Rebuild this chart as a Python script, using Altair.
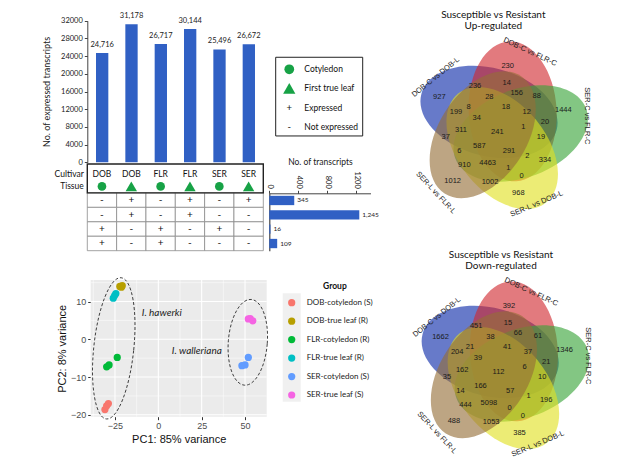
import altair as alt
import pandas as pd

W, H = 616, 452
M = 8


def cv(v):
    """page pixel -> canvas pixel"""
    return v - M


# ---------------- data ----------------
samples = ["DOB-C", "DOB-L", "FLR-C", "FLR-L", "SER-C", "SER-L"]
cultivars = ["DOB", "DOB", "FLR", "FLR", "SER", "SER"]
tissues = ["Cotyledon", "First true leaf", "Cotyledon", "First true leaf", "Cotyledon", "First true leaf"]
expressed = [24716, 31178, 26717, 30144, 25496, 26672]

patterns = [
    ["-", "+", "-", "+", "-", "+"],
    ["-", "+", "-", "+", "-", "-"],
    ["+", "-", "+", "-", "+", "-"],
    ["+", "-", "+", "-", "-", "-"],
]
pattern_counts = [345, 1245, 16, 109]

legend_labels = ["Cotyledon", "First true leaf", "Expressed", "Not expressed"]
legend_glyphs = ["", "", "+", "-"]

pca_groups = ["DOB-cotyledon (S)", "DOB-true leaf (R)", "FLR-cotyledon (R)",
              "FLR-true leaf (R)", "SER-cotyledon (S)", "SER-true leaf (S)"]
pca_colors = ["#F8766D", "#B79F00", "#00BA38", "#00BFC4", "#619CFF", "#F564E3"]
pca_group_of = ["DOB-cotyledon (S)"] * 3 + ["DOB-true leaf (R)"] * 3 + ["FLR-cotyledon (R)"] * 3 + \
               ["FLR-true leaf (R)"] * 3 + ["SER-cotyledon (S)"] * 3 + ["SER-true leaf (S)"] * 3
pc1 = [-30.8, -29.8, -28.8, -22.2, -21.3, -20.8, -29.8, -28.4, -23.7,
       -26.0, -25.2, -24.5, 48.2, 50.0, 51.9, 51.9, 53.0, 54.5]
pc2 = [-18.6, -17.6, -17.0, 14.0, 13.8, 14.2, -7.3, -6.8, -4.8,
       10.9, 11.6, 12.1, -7.0, -6.8, -4.8, 5.4, 5.5, 4.9]
species = ["I. hawerki", "I. walleriana"]
species_pc1 = [2.0, 22.2]
species_pc2 = [7.0, -3.0]

venn_sets = ["DOB-C vs DOB-L", "DOB-C vs FLR-C", "SER-C vs FLR-C", "SER-L vs DOB-L", "SER-L vs FLR-L"]
venn_up = [230, 14, 236, 156, 88, 28, 18, 927, 8, 199, 12, 1444, 34, 20, 311, 241, 1, 37, 19,
           587, 291, 6, 2, 334, 910, 4463, 1, 0, 1012, 1002, 968]
venn_down = [392, 15, 451, 66, 61, 38, 41, 1662, 21, 204, 37, 1346, 39, 21, 162, 112, 6, 35, 10,
             166, 57, 14, 1, 196, 444, 5098, 0, 0, 488, 1053, 385]

# ---------------- layout (positions, not data) ----------------
venn_dx = [6.2, 5.2, -26.5, 15.2, 35.2, -12.2, 4.5, -62.2, -32.8, -45.5, 25.2, 61.8, -24.8, 43.5,
           -40.5, -4.2, 21.8, -55.8, 39.5, -22.2, 7.5, -42.2, 25.8, 43.5, -37.2, -13.8, 6.8, 20.2,
           -48.8, -11.5, 16.8]
venn_dy = [-62.3, -44.7, -42.3, -34.7, -32.3, -30.7, -21.3, -30.7, -21.3, -15.7, -15.7, -18.0, -9.7,
           -5.7, 2.0, 4.3, -0.7, 9.3, 8.7, 18.0, 23.0, 22.7, 28.0, 32.3, 36.7, 35.3, 40.3, 48.0,
           52.7, 54.3, 65.3]
# five congruent ellipses, rotated by 72 degrees around the diagram centre
venn_shape_dx = [-12.5, 11.2, 19.2, 0.7, -18.8]
venn_shape_dy = [-16.0, -16.6, 5.5, 20.0, 6.8]
venn_shape_rot = [15, 87, 159, 231, 303]
VENN_A, VENN_B = 70.0, 44.0
venn_label_dx = [-65.8, 28.5, 85.2, 35.2, -65.8]
venn_label_dy = [-50.7, -76.0, -12.2, 76.0, 64.7]
venn_label_rot = [-39, 25, 90, -23, 47]
venn_colors = ["#0A28A8", "#D1282F", "#37A337", "#E1E120", "#946D37"]

BLUE = "#3060C4"
GREEN = "#17A246"
CAL = "Lato"
ARIAL = "Liberation Sans"


def ellipse_path(rx, ry):
    k = 0.5523
    return (f"M {rx} 0 C {rx} {k*ry:.4f} {k*rx:.4f} {ry} 0 {ry} "
            f"C {-k*rx:.4f} {ry} {-rx} {k*ry:.4f} {-rx} 0 "
            f"C {-rx} {-k*ry:.4f} {-k*rx:.4f} {-ry} 0 {-ry} "
            f"C {k*rx:.4f} {-ry} {rx} {-k*ry:.4f} {rx} 0 Z")


layers = []

# ---------------- bar chart: expressed transcripts ----------------
bar_x = alt.Scale(domain=samples, range=[cv(87.5), cv(263.5)], paddingInner=0.58, paddingOuter=0.29)
bar_y = alt.Scale(domain=[0, 32000], range=[cv(162.3), cv(20.7)], nice=False)
df_bar = pd.DataFrame({"sample": samples, "count": expressed})
layers.append(
    alt.Chart(df_bar).mark_bar(color=BLUE).encode(
        x=alt.X("sample:N", scale=bar_x, axis=None),
        y=alt.Y("count:Q", scale=bar_y, axis=alt.Axis(
            orient="left", offset=-cv(87.3), values=list(range(0, 32001, 4000)), format="d",
            title="No. of expressed transcripts", titleFont=CAL, titleFontSize=9,
            titleFontWeight="normal", titleColor="#222", titlePadding=9,
            labelFont=CAL, labelFontSize=7.5, labelColor="#222", labelPadding=2,
            tickSize=3, tickColor="#444", domainColor="#444")),
    )
)
layers.append(
    alt.Chart(df_bar).mark_text(dy=-4, font=CAL, fontSize=7.5, color="#222", baseline="bottom").encode(
        x=alt.X("sample:N", scale=bar_x, axis=None),
        y=alt.Y("count:Q", scale=bar_y, axis=None),
        text=alt.Text("count:Q", format=","),
    )
)

# ---------------- table ----------------
ncol, nrow = len(samples), len(patterns)
tab_x = alt.Scale(domain=[0, ncol], range=[cv(87.3), cv(263.3)], nice=False, zero=False)
tab_y = alt.Scale(domain=[-2, nrow], range=[cv(164), cv(250.7)], nice=False, zero=False)
cells = pd.DataFrame([
    {"c0": c, "c1": c + 1, "r0": r, "r1": r + 1, "cm": c + 0.5, "rm": r + 0.5, "sym": patterns[r][c]}
    for r in range(nrow) for c in range(ncol)
])
layers.append(
    alt.Chart(cells).mark_rect(fill="white", stroke="#8a8a8a", strokeWidth=0.8).encode(
        x=alt.X("c0:Q", scale=tab_x, axis=None), x2="c1:Q",
        y=alt.Y("r0:Q", scale=tab_y, axis=None), y2="r1:Q",
    )
)
layers.append(
    alt.Chart(cells).mark_text(font=CAL, fontSize=10, color="#111").encode(
        x=alt.X("cm:Q", scale=tab_x, axis=None),
        y=alt.Y("rm:Q", scale=tab_y, axis=None),
        text="sym:N",
    )
)
header = pd.DataFrame({"c0": [0], "c1": [ncol], "r0": [-2], "r1": [0]})
layers.append(
    alt.Chart(header).mark_rect(fill=None, stroke="#222", strokeWidth=1.4).encode(
        x=alt.X("c0:Q", scale=tab_x, axis=None), x2="c1:Q",
        y=alt.Y("r0:Q", scale=tab_y, axis=None), y2="r1:Q",
    )
)
head_df = pd.DataFrame({"cm": [i + 0.5 for i in range(ncol)], "cultivar": cultivars, "tissue": tissues,
                        "ry": [-1.3] * ncol, "ty": [-0.45] * ncol})
layers.append(
    alt.Chart(head_df).mark_text(font=CAL, fontSize=8.5, color="#111").encode(
        x=alt.X("cm:Q", scale=tab_x, axis=None),
        y=alt.Y("ry:Q", scale=tab_y, axis=None),
        text="cultivar:N",
    )
)
tissue_shape = alt.Scale(domain=["Cotyledon", "First true leaf"], range=["circle", "triangle-up"])
tissue_size = alt.Scale(domain=["Cotyledon", "First true leaf"], range=[75, 130])
layers.append(
    alt.Chart(head_df).mark_point(filled=True, color=GREEN, opacity=1).encode(
        x=alt.X("cm:Q", scale=tab_x, axis=None),
        y=alt.Y("ty:Q", scale=tab_y, axis=None),
        shape=alt.Shape("tissue:N", scale=tissue_shape, legend=None),
        size=alt.Size("tissue:N", scale=tissue_size, legend=None),
    )
)
rowlab = pd.DataFrame({"x": [-0.12, -0.12], "y": [-1.3, -0.45], "t": ["Cultivar", "Tissue"]})
layers.append(
    alt.Chart(rowlab).mark_text(font=CAL, fontSize=8.5, color="#111", align="right").encode(
        x=alt.X("x:Q", scale=tab_x, axis=None),
        y=alt.Y("y:Q", scale=tab_y, axis=None),
        text="t:N",
    )
)

# ---------------- horizontal bars: No. of transcripts ----------------
hb_x = alt.Scale(domain=[0, 1400], range=[cv(269.3), cv(370.5)], nice=False)
hb_y = alt.Scale(domain=list(range(nrow)), range=[cv(193.3), cv(250.7)], paddingInner=0.35, paddingOuter=0.175)
df_hb = pd.DataFrame({"row": list(range(nrow)), "n": pattern_counts})
layers.append(
    alt.Chart(df_hb).mark_bar(color=BLUE).encode(
        x=alt.X("n:Q", scale=hb_x, axis=alt.Axis(
            orient="top", offset=-cv(193.3), values=[0, 400, 800, 1200], format="d", labelAngle=90,
            title="No. of transcripts", titleFont=CAL, titleFontSize=8.5, titleFontWeight="normal",
            titleColor="#222", titlePadding=4, labelFont=CAL, labelFontSize=7.5, labelColor="#222",
            labelPadding=2, tickSize=3, tickColor="#444", domainColor="#444")),
        y=alt.Y("row:O", scale=hb_y, axis=alt.Axis(
            orient="left", offset=-cv(269.3), labels=False, ticks=False, title=None,
            domainColor="#444", domainWidth=1.2)),
    )
)
layers.append(
    alt.Chart(df_hb).mark_text(align="left", dx=3, font=CAL, fontSize=6.5, color="#222").encode(
        x=alt.X("n:Q", scale=hb_x, axis=None),
        y=alt.Y("row:O", scale=hb_y, axis=None),
        text=alt.Text("n:Q", format=","),
    )
)

# ---------------- shape legend box ----------------
lg_x = alt.Scale(domain=[0, 1], range=[cv(275.7), cv(362.7)], nice=False, zero=False)
lg_y = alt.Scale(domain=[0, len(legend_labels) - 1], range=[cv(69.3), cv(126.6)], nice=False, zero=False)
box = pd.DataFrame({"x0": [0], "x1": [1], "y0": [-0.63], "y1": [len(legend_labels) - 0.51]})
layers.append(
    alt.Chart(box).mark_rect(fill="white", stroke="#222", strokeWidth=1).encode(
        x=alt.X("x0:Q", scale=lg_x, axis=None), x2="x1:Q",
        y=alt.Y("y0:Q", scale=lg_y, axis=None), y2="y1:Q",
    )
)
lg_df = pd.DataFrame({"i": list(range(len(legend_labels))), "label": legend_labels,
                      "glyph": legend_glyphs, "sx": [0.156] * 4, "tx": [0.329] * 4})
layers.append(
    alt.Chart(lg_df).transform_filter("datum.i < 2").mark_point(filled=True, color=GREEN, opacity=1).encode(
        x=alt.X("sx:Q", scale=lg_x, axis=None),
        y=alt.Y("i:Q", scale=lg_y, axis=None),
        shape=alt.Shape("label:N", scale=tissue_shape, legend=None),
        size=alt.Size("label:N", scale=alt.Scale(domain=["Cotyledon", "First true leaf"], range=[95, 150]), legend=None),
    )
)
layers.append(
    alt.Chart(lg_df).transform_filter("datum.i >= 2").mark_text(font=CAL, fontSize=9.5, color="#111").encode(
        x=alt.X("sx:Q", scale=lg_x, axis=None),
        y=alt.Y("i:Q", scale=lg_y, axis=None),
        text="glyph:N",
    )
)
layers.append(
    alt.Chart(lg_df).mark_text(align="left", font=CAL, fontSize=8.5, color="#111").encode(
        x=alt.X("tx:Q", scale=lg_x, axis=None),
        y=alt.Y("i:Q", scale=lg_y, axis=None),
        text="label:N",
    )
)

# ---------------- PCA ----------------
PX = [-39.0, 62.5]
PY = [-20.5, 15.7]
pca_x = alt.Scale(domain=PX, range=[cv(90.7), cv(266.7)], nice=False, zero=False)
pca_y = alt.Scale(domain=PY, range=[cv(416.7), cv(280.0)], nice=False, zero=False)
panel = pd.DataFrame({"x0": [PX[0]], "x1": [PX[1]], "y0": [PY[0]], "y1": [PY[1]]})
layers.append(
    alt.Chart(panel).mark_rect(fill="#EBEBEB").encode(
        x=alt.X("x0:Q", scale=pca_x, axis=alt.Axis(
            orient="bottom", offset=cv(416.7) - H, values=[-25, 0, 25, 50], domain=False,
            title="PC1: 85% variance", titleFont=ARIAL, titleFontSize=11, titleFontWeight="normal",
            titleColor="#111", titlePadding=3, labelFont=ARIAL, labelFontSize=9, labelColor="#4D4D4D",
            labelPadding=2, tickSize=3, tickColor="#333")),
        x2="x1:Q",
        y=alt.Y("y0:Q", scale=pca_y, axis=alt.Axis(
            orient="left", offset=-cv(90.7), values=[-20, -10, 0, 10], domain=False,
            title="PC2: 8% variance", titleFont=ARIAL, titleFontSize=11, titleFontWeight="normal",
            titleColor="#111", titlePadding=3, labelFont=ARIAL, labelFontSize=9, labelColor="#4D4D4D",
            labelPadding=2, tickSize=3, tickColor="#333")),
        y2="y1:Q",
    )
)
vgrid = pd.DataFrame({"v": [-37.5, -12.5, 12.5, 37.5, -25, 0, 25, 50],
                      "w": [0.5] * 4 + [1.1] * 4, "y0": [PY[0]] * 8, "y1": [PY[1]] * 8})
hgrid = pd.DataFrame({"v": [-15, -5, 5, 15, -20, -10, 0, 10],
                      "w": [0.5] * 4 + [1.1] * 4, "x0": [PX[0]] * 8, "x1": [PX[1]] * 8})
layers.append(
    alt.Chart(vgrid).mark_rule(color="white").encode(
        x=alt.X("v:Q", scale=pca_x, axis=None),
        y=alt.Y("y0:Q", scale=pca_y, axis=None), y2="y1:Q",
        strokeWidth=alt.StrokeWidth("w:Q", scale=None),
    )
)
layers.append(
    alt.Chart(hgrid).mark_rule(color="white").encode(
        y=alt.Y("v:Q", scale=pca_y, axis=None),
        x=alt.X("x0:Q", scale=pca_x, axis=None), x2="x1:Q",
        strokeWidth=alt.StrokeWidth("w:Q", scale=None),
    )
)
pca_color = alt.Scale(domain=pca_groups, range=pca_colors)
df_pca = pd.DataFrame({"pc1": pc1, "pc2": pc2, "group": pca_group_of})
layers.append(
    alt.Chart(df_pca).mark_circle(size=52, opacity=1).encode(
        x=alt.X("pc1:Q", scale=pca_x, axis=None),
        y=alt.Y("pc2:Q", scale=pca_y, axis=None),
        color=alt.Color("group:N", scale=pca_color, legend=None),
    )
)
ell_l = pd.DataFrame({"x": [-25.7], "y": [-2.4]})
ell_r = pd.DataFrame({"x": [51.6], "y": [-0.8]})
layers.append(
    alt.Chart(ell_l).mark_point(shape=ellipse_path(20 / 71, 1), size=(2 * 71) ** 2, angle=6,
                                filled=False, color="#333", strokeWidth=0.9, strokeDash=[3, 2],
                                opacity=1).encode(
        x=alt.X("x:Q", scale=pca_x, axis=None), y=alt.Y("y:Q", scale=pca_y, axis=None))
)
layers.append(
    alt.Chart(ell_r).mark_point(shape=ellipse_path(19.5 / 43, 1), size=(2 * 43) ** 2, angle=4.5,
                                filled=False, color="#333", strokeWidth=0.9, strokeDash=[3, 2],
                                opacity=1).encode(
        x=alt.X("x:Q", scale=pca_x, axis=None), y=alt.Y("y:Q", scale=pca_y, axis=None))
)
df_sp = pd.DataFrame({"pc1": species_pc1, "pc2": species_pc2, "name": species})
layers.append(
    alt.Chart(df_sp).mark_text(font=CAL, fontSize=10, fontStyle="italic", color="#222").encode(
        x=alt.X("pc1:Q", scale=pca_x, axis=None),
        y=alt.Y("pc2:Q", scale=pca_y, axis=None),
        text="name:N",
    )
)

# PCA legend
pl_x = alt.Scale(domain=[0, 1], range=[cv(282.7), cv(300.7)], nice=False, zero=False)
pl_y = alt.Scale(domain=[0, len(pca_groups) - 1], range=[cv(302.7), cv(395.0)], nice=False, zero=False)
keybg = pd.DataFrame({"x0": [0], "x1": [1], "y0": [-0.51], "y1": [len(pca_groups) - 0.64]})
layers.append(
    alt.Chart(keybg).mark_rect(fill="#F0F0F0").encode(
        x=alt.X("x0:Q", scale=pl_x, axis=None), x2="x1:Q",
        y=alt.Y("y0:Q", scale=pl_y, axis=None), y2="y1:Q",
    )
)
pl_df = pd.DataFrame({"i": list(range(len(pca_groups))), "group": pca_groups,
                      "sx": [0.5] * len(pca_groups), "tx": [1.33] * len(pca_groups)})
layers.append(
    alt.Chart(pl_df).mark_circle(size=52, opacity=1).encode(
        x=alt.X("sx:Q", scale=pl_x, axis=None),
        y=alt.Y("i:Q", scale=pl_y, axis=None),
        color=alt.Color("group:N", scale=pca_color, legend=None),
    )
)
layers.append(
    alt.Chart(pl_df).mark_text(align="left", font=CAL, fontSize=8, color="#222").encode(
        x=alt.X("tx:Q", scale=pl_x, axis=None),
        y=alt.Y("i:Q", scale=pl_y, axis=None),
        text="group:N",
    )
)
pl_title = pd.DataFrame({"x": [2.9], "y": [-0.92], "t": ["Group"]})
layers.append(
    alt.Chart(pl_title).mark_text(font=CAL, fontSize=8.5, fontWeight="bold", color="#111").encode(
        x=alt.X("x:Q", scale=pl_x, axis=None),
        y=alt.Y("y:Q", scale=pl_y, axis=None),
        text="t:N",
    )
)


# ---------------- Venn diagrams ----------------
def venn(values, subtitle, cxp, cyp, title_dx):
    vx = alt.Scale(domain=[-100, 100], range=[cv(cxp - 100), cv(cxp + 100)], nice=False, zero=False)
    vy = alt.Scale(domain=[-100, 100], range=[cv(cyp - 100), cv(cyp + 100)], nice=False, zero=False)
    out = []
    shp = pd.DataFrame({"set": venn_sets, "x": venn_shape_dx, "y": venn_shape_dy, "rot": venn_shape_rot})
    out.append(
        alt.Chart(shp).mark_point(shape=ellipse_path(1, VENN_B / VENN_A), size=(2 * VENN_A) ** 2,
                                  filled=True, opacity=0.62, strokeWidth=0).encode(
            x=alt.X("x:Q", scale=vx, axis=None),
            y=alt.Y("y:Q", scale=vy, axis=None),
            color=alt.Color("set:N", scale=alt.Scale(domain=venn_sets, range=venn_colors), legend=None),
            angle=alt.Angle("rot:Q", scale=None),
        )
    )
    nums = pd.DataFrame({"x": venn_dx, "y": venn_dy, "v": values})
    out.append(
        alt.Chart(nums).mark_text(font=ARIAL, fontSize=7.5, color="#1a1a1a").encode(
            x=alt.X("x:Q", scale=vx, axis=None),
            y=alt.Y("y:Q", scale=vy, axis=None),
            text="v:Q",
        )
    )
    labs = pd.DataFrame({"set": venn_sets, "x": venn_label_dx, "y": venn_label_dy, "rot": venn_label_rot})
    out.append(
        alt.Chart(labs).mark_text(font=ARIAL, fontSize=7.5, color="#222").encode(
            x=alt.X("x:Q", scale=vx, axis=None),
            y=alt.Y("y:Q", scale=vy, axis=None),
            text="set:N",
            angle=alt.Angle("rot:Q", scale=None),
        )
    )
    ttl = pd.DataFrame({"x": [title_dx, title_dx], "y": [-113.2, -101.6],
                        "t": ["Susceptible vs Resistant", subtitle]})
    out.append(
        alt.Chart(ttl).mark_text(font=CAL, fontSize=10, color="#111").encode(
            x=alt.X("x:Q", scale=vx, axis=None),
            y=alt.Y("y:Q", scale=vy, axis=None),
            text="t:N",
        )
    )
    return out


layers += venn(venn_up, "Up-regulated", 501.5, 128.0, -8.2)
layers += venn(venn_down, "Down-regulated", 502.7, 368.0, -1.7)

chart = alt.layer(*layers).resolve_scale(
    x="independent", y="independent", color="independent", shape="independent", size="independent"
).properties(
    width=W, height=H, autosize=alt.AutoSizeParams(type="none"), padding=0
).configure_view(stroke=None).configure_axis(grid=False)

chart.save("out.html", embed_options={"renderer": "svg", "actions": False})
